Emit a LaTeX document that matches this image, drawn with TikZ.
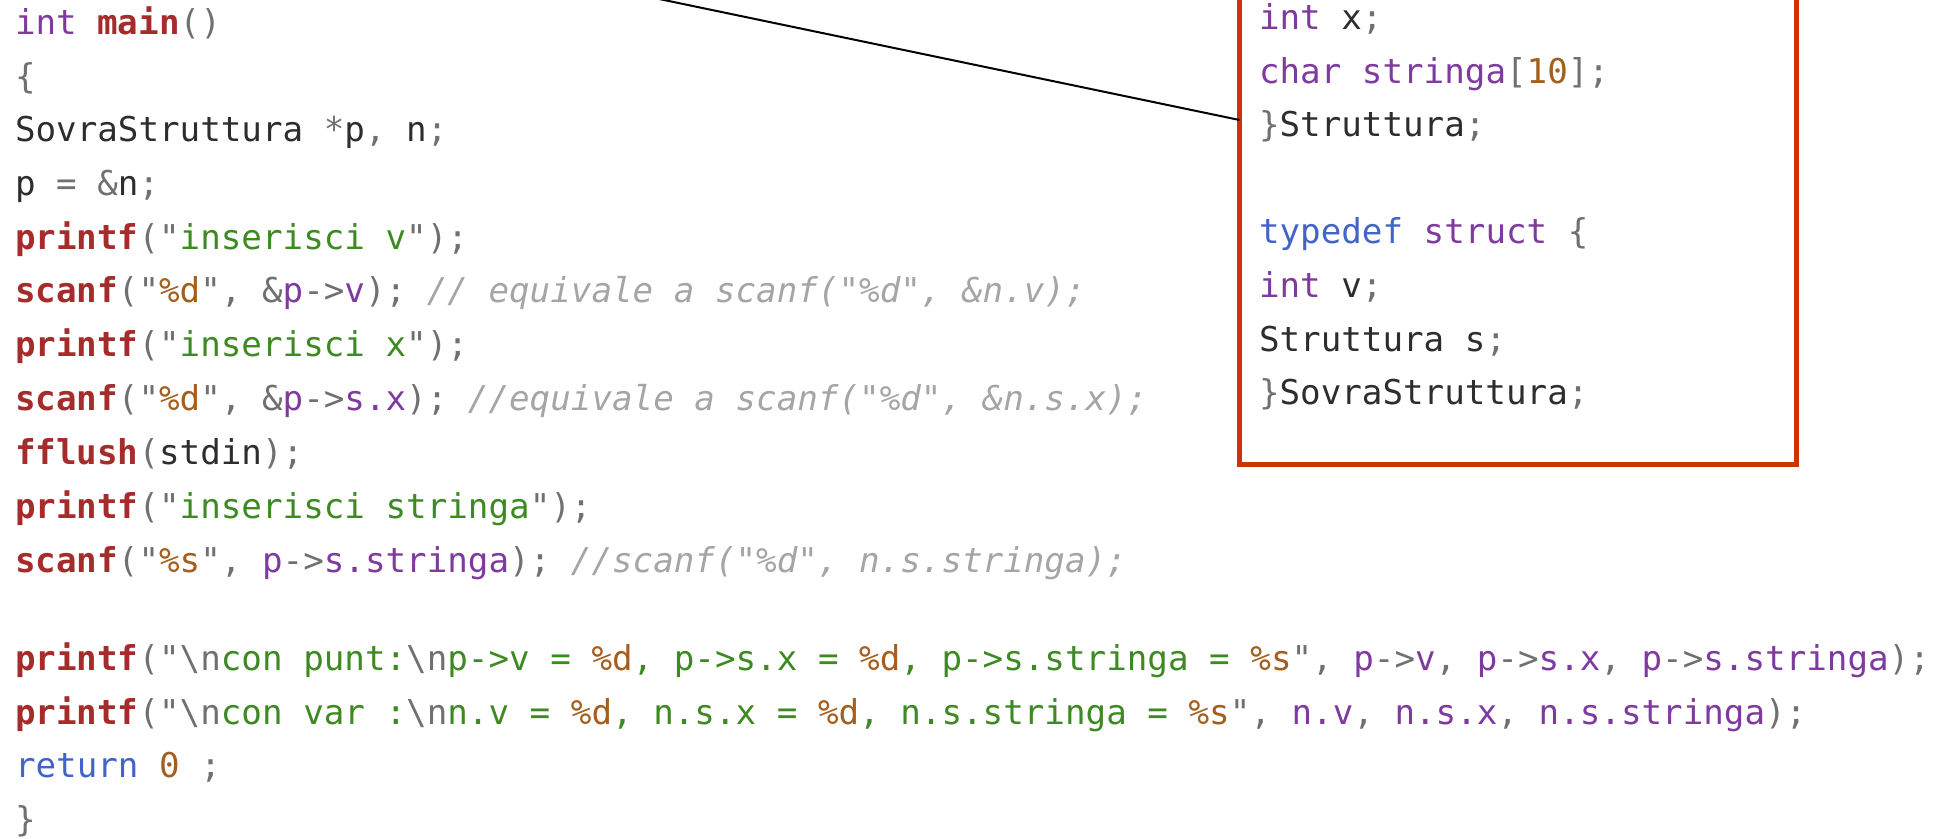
\documentclass[tikz,border=0pt]{standalone}
\usepackage{fontspec}
\setmonofont{DejaVu Sans Mono}
\usepackage{xcolor}

% syntax colours
\definecolor{kw}{RGB}{126,58,158}
\definecolor{fn}{RGB}{166,44,44}
\definecolor{pun}{RGB}{112,112,112}
\definecolor{strg}{RGB}{62,138,34}
\definecolor{numc}{RGB}{164,94,30}
\definecolor{comc}{RGB}{165,165,165}
\definecolor{txt}{RGB}{45,45,45}
\definecolor{blu}{RGB}{66,100,200}
\definecolor{redbox}{RGB}{204,51,0}

\newcommand\codefont{\ttfamily\fontsize{17.1pt}{20pt}\selectfont\frenchspacing}
\newcommand\ckw[1]{\textcolor{kw}{#1}}
\newcommand\cfn[1]{\textcolor{fn}{\bfseries #1}}
\newcommand\cpu[1]{\textcolor{pun}{#1}}
\newcommand\cst[1]{\textcolor{strg}{#1}}
\newcommand\cnu[1]{\textcolor{numc}{#1}}
\newcommand\cco[1]{\textcolor{comc}{\itshape #1}}
\newcommand\ctx[1]{\textcolor{txt}{#1}}
\newcommand\cbl[1]{\textcolor{blu}{#1}}
\newcommand\bsl{\textbackslash}

\begin{document}
\begin{tikzpicture}[x=0.5pt,y=-0.5pt,
  code/.style={anchor=base west, inner sep=0pt, outer sep=0pt, font=\codefont, text=txt},
  structbox/.style={draw=redbox, line width=2.5pt, anchor=south west,
    inner sep=0pt, outer sep=0pt, minimum width=278.25pt, minimum height=252.25pt},
  leader/.style={draw=black, line width=1pt}]
\useasboundingbox (0,0) rectangle (1957,839);
\clip (0,0) rectangle (1957,839);

% main program
\node[code] (m0)  at (15,35)   {\ckw{int} \cfn{main}\cpu{()}};
\node[code] (m1)  at (15,88.5) {\cpu{\{}};
\node[code] (m2)  at (15,142)  {\ctx{SovraStruttura} \cpu{*}\ctx{p}\cpu{,} \ctx{n}\cpu{;}};
\node[code] (m3)  at (15,195.6){\ctx{p} \cpu{=} \cpu{\&}\ctx{n}\cpu{;}};
\node[code] (m4)  at (15,249.2){\cfn{printf}\cpu{("}\cst{inserisci v}\cpu{");}};
\node[code] (m5)  at (15,303)  {\cfn{scanf}\cpu{("}\cnu{\%d}\cpu{",} \cpu{\&}\ckw{p}\cpu{->}\ckw{v}\cpu{);} \cco{// equivale a scanf("\%d", \&n.v);}};
\node[code] (m6)  at (15,356.8){\cfn{printf}\cpu{("}\cst{inserisci x}\cpu{");}};
\node[code] (m7)  at (15,410.6){\cfn{scanf}\cpu{("}\cnu{\%d}\cpu{",} \cpu{\&}\ckw{p}\cpu{->}\ckw{s.x}\cpu{);} \cco{//equivale a scanf("\%d", \&n.s.x);}};
\node[code] (m8)  at (15,464.4){\cfn{fflush}\cpu{(}\ctx{stdin}\cpu{);}};
\node[code] (m9)  at (15,518.2){\cfn{printf}\cpu{("}\cst{inserisci stringa}\cpu{");}};
\node[code] (m10) at (15,572)  {\cfn{scanf}\cpu{("}\cnu{\%s}\cpu{",} \ckw{p}\cpu{->}\ckw{s.stringa}\cpu{);} \cco{//scanf("\%d", n.s.stringa);}};

\node[code] (m11) at (15,670)  {\cfn{printf}\cpu{("\bsl n}\cst{con punt:}\cpu{\bsl n}\cst{p->v = }\cnu{\%d}\cst{, p->s.x = }\cnu{\%d}\cst{, p->s.stringa = }\cnu{\%s}\cpu{",} \ckw{p}\cpu{->}\ckw{v}\cpu{,} \ckw{p}\cpu{->}\ckw{s.x}\cpu{,} \ckw{p}\cpu{->}\ckw{s.stringa}\cpu{);}};
\node[code] (m12) at (15,724)  {\cfn{printf}\cpu{("\bsl n}\cst{con var :}\cpu{\bsl n}\cst{n.v = }\cnu{\%d}\cst{, n.s.x = }\cnu{\%d}\cst{, n.s.stringa = }\cnu{\%s}\cpu{",} \ckw{n.v}\cpu{,} \ckw{n.s.x}\cpu{,} \ckw{n.s.stringa}\cpu{);}};
\node[code] (m13) at (15,777.5){\cbl{return} \cnu{0} \cpu{;}};
\node[code] (m14) at (15,831)  {\cpu{\}}};

% type declarations
\node[structbox] (box) at (1239.5,464.5) {};
\node[code] (t0) at (1259,30)    {\ckw{int} \ctx{x}\cpu{;}};
\node[code] (t1) at (1259,83.5)  {\ckw{char} \ckw{stringa}\cpu{[}\cnu{10}\cpu{];}};
\node[code] (t2) at (1259,137)   {\cpu{\}}\ctx{Struttura}\cpu{;}};
\node[code] (t3) at (1259,244)   {\cbl{typedef} \ckw{struct} \cpu{\{}};
\node[code] (t4) at (1259,297.5) {\ckw{int} \ctx{v}\cpu{;}};
\node[code] (t5) at (1259,351)   {\ctx{Struttura s}\cpu{;}};
\node[code] (t6) at (1259,404.5) {\cpu{\}}\ctx{SovraStruttura}\cpu{;}};

% leader line into the box
\coordinate (tail) at (568,-20);
\coordinate (hook) at (box.west |- 0,120);
\draw[leader] (tail) -- (hook);
\end{tikzpicture}
\end{document}
